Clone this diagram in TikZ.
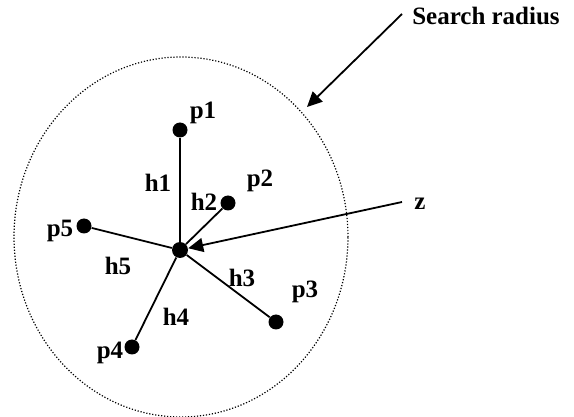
\documentclass[tikz,border=0pt]{standalone}
\usepackage{fontspec}
\setmainfont{Liberation Serif}
\usetikzlibrary{arrows.meta,positioning}
\tikzset{
  sample/.style={circle, fill=black, inner sep=0pt, minimum size=7.5pt},
  target/.style={sample, minimum size=8pt},
  lbl/.style={font=\fontsize{12.5}{15}\selectfont\bfseries, inner sep=0pt},
  link/.style={line width=0.9pt},
  arrow/.style={-{Triangle[length=7.5pt,width=7pt]}, line width=0.9pt},
  searchline/.style={line width=0.6pt, dash pattern=on 0.6pt off 0.9pt}
}
\begin{document}
\begin{tikzpicture}[x=0.5pt, y=-0.5pt]
    \useasboundingbox (0,0) rectangle (574,417);
    % search neighbourhood
    \draw[searchline] (181,237) ellipse [x radius=83.5pt, y radius=90pt];
    % estimation point and samples
    \node[target] (z0) at (180,250) {};
    \node[sample] (p1) at (180,130) {};
    \node[sample] (p2) at (228,203) {};
    \node[sample] (p3) at (276,322) {};
    \node[sample] (p4) at (132,347) {};
    \node[sample] (p5) at (84,226) {};
    % labels
    \node[lbl] (p1l) at (203,113) {p1};
    \node[lbl] (p2l) at (260,181) {p2};
    \node[lbl] (p3l) at (305,292) {p3};
    \node[lbl] (p4l) at (110,353) {p4};
    \node[lbl] (p5l) at (60,231) {p5};
    \node[lbl] (h1l) at (158,183) {h1};
    \node[lbl] (h2l) at (204,202) {h2};
    \node[lbl] (h3l) at (242,278) {h3};
    \node[lbl] (h4l) at (176,317) {h4};
    \node[lbl] (h5l) at (118,266) {h5};
    \node[lbl] (zl) at (420,204) {z};
    \node[lbl] (srl) at (486,16) {Search radius};
    \coordinate (ztail) at (402,202);
    \coordinate (srtail) at (402,14);
    \coordinate (srtip) at (307,107);
    % distances
    \draw[link] (z0) -- (p1);
    \draw[link] (z0) -- (p2);
    \draw[link] (z0) -- (p3);
    \draw[link] (z0) -- (p4);
    \draw[link] (z0) -- (p5);
    \draw[arrow] (ztail) -- (z0);
    \draw[arrow] (srtail) -- (srtip);
\end{tikzpicture}
\end{document}
